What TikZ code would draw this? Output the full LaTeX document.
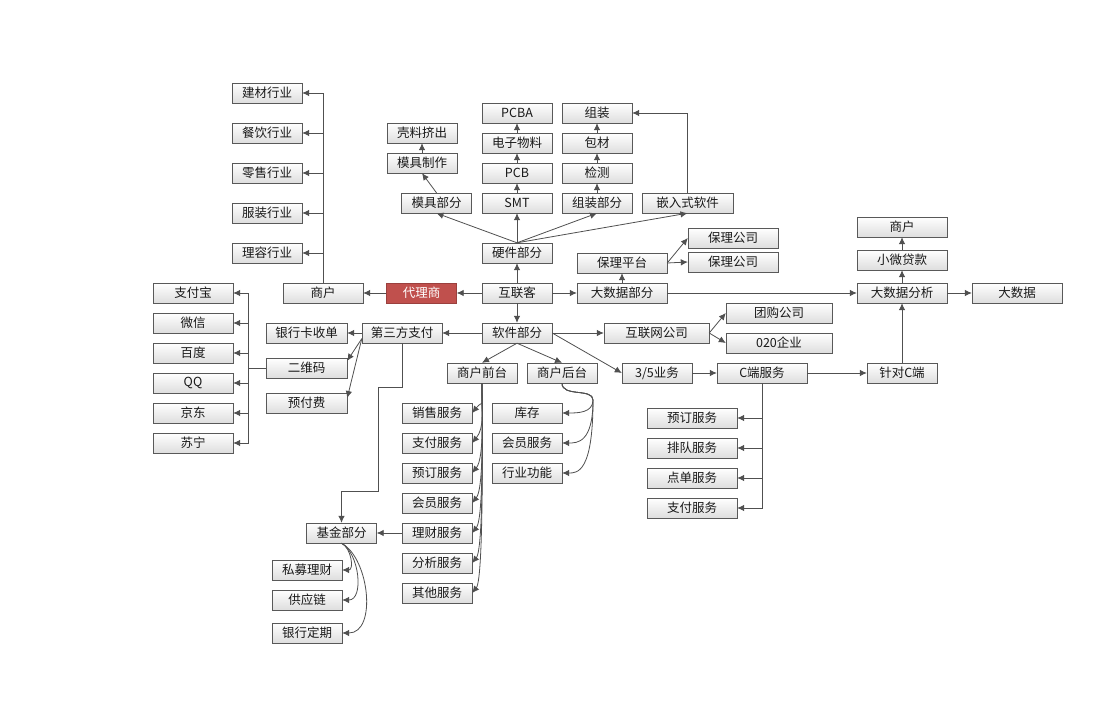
\documentclass[tikz,border=0pt]{standalone}
\usepackage{fontspec}
\usepackage{tikz}
\usetikzlibrary{arrows}
\usetikzlibrary{arrows.meta}
\newfontfamily\cjk{Noto Sans CJK SC}
\definecolor{agentred}{HTML}{C0504D}
\definecolor{linegray}{HTML}{505050}
\tikzset{
part/.style = { rectangle, draw = black!65, top color = white, bottom color = black!13, minimum width = 70bp, minimum height = 20bp, inner sep = 0pt, text = black!90, font = \cjk\fontsize{12.5bp}{14bp}\selectfont },
wide/.style = { part, minimum width = 90bp },
agent/.style = { part, draw = agentred!80!black, top color = agentred, bottom color = agentred, text = white },
link/.style = { draw = linegray, line width = 0.8bp, -{Latex[length = 7bp, width = 6.5bp]} },
}

\begin{document}
\begin{tikzpicture}[x = 1bp, y = -1bp]
    \useasboundingbox[fill = white] (0, 0) rectangle (1118, 715);
    \node[part] (jc) at (267, 93) {建材行业};
    \node[part] (cy) at (267, 133) {餐饮行业};
    \node[part] (ls) at (267, 173) {零售行业};
    \node[part] (fz) at (267, 213) {服装行业};
    \node[part] (lr) at (267, 253) {理容行业};
    \node[part, minimum width = 80bp] (shl) at (323, 293) {商户};
    \node[agent] (dls) at (421.5, 293) {代理商};
    \node[part] (klj) at (422, 133) {壳料挤出};
    \node[part] (mjz) at (422, 163) {模具制作};
    \node[part] (mjb) at (436.5, 203) {模具部分};
    \node[part] (pcba) at (517, 113) {PCBA};
    \node[part] (dzwl) at (517, 143) {电子物料};
    \node[part] (pcb) at (517, 173) {PCB};
    \node[part] (smt) at (517, 203) {SMT};
    \node[part] (yj) at (517, 253) {硬件部分};
    \node[part] (hlk) at (517, 293) {互联客};
    \node[part] (rj) at (517, 333) {软件部分};
    \node[part] (zz) at (597, 113) {组装};
    \node[part] (bc) at (597, 143) {包材};
    \node[part] (jcz) at (597, 173) {检测};
    \node[part] (zzb) at (597, 203) {组装部分};
    \node[part, minimum width = 91bp] (qrs) at (687.5, 203) {嵌入式软件};
    \node[wide] (blp) at (622, 263) {保理平台};
    \node[wide] (dsj) at (622, 293) {大数据部分};
    \node[wide] (blg1) at (733, 238) {保理公司};
    \node[wide] (blg2) at (733, 262) {保理公司};
    \node[wide] (shr) at (902, 227) {商户};
    \node[wide] (xw) at (902, 260) {小微贷款};
    \node[wide] (dfx) at (902, 293) {大数据分析};
    \node[wide] (dsjr) at (1017, 293) {大数据};
    \node[part, minimum width = 105bp] (hlw) at (656.5, 333) {互联网公司};
    \node[part, minimum width = 106bp] (tg) at (779, 313) {团购公司};
    \node[part, minimum width = 106bp] (oto) at (779, 343) {020企业};
    \node[part] (ywb) at (657, 373) {3/5业务};
    \node[wide] (cd) at (762, 373) {C端服务};
    \node[part] (zdc) at (902, 373) {针对C端};
    \node[wide] (cyd) at (692, 418) {预订服务};
    \node[wide] (cpd) at (692, 448) {排队服务};
    \node[wide] (cdd) at (692, 478) {点单服务};
    \node[wide] (czf) at (692, 508) {支付服务};
    \node[part] (qt) at (482, 373) {商户前台};
    \node[part] (ht) at (562, 373) {商户后台};
    \node[part] (xs) at (437, 413) {销售服务};
    \node[part] (zf) at (437, 443) {支付服务};
    \node[part] (yd) at (437, 473) {预订服务};
    \node[part] (hy) at (437, 503) {会员服务};
    \node[part] (lc) at (437, 533) {理财服务};
    \node[part] (fx) at (437, 563) {分析服务};
    \node[part] (qtfw) at (437, 593) {其他服务};
    \node[part] (kc) at (527, 413) {库存};
    \node[part] (hyb) at (527, 443) {会员服务};
    \node[part] (hygn) at (527, 473) {行业功能};
    \node[part, minimum width = 80bp] (dsf) at (402, 333) {第三方支付};
    \node[part, minimum width = 81bp] (yhk) at (306.5, 333) {银行卡收单};
    \node[part, minimum width = 81bp] (ewm) at (306.5, 368) {二维码};
    \node[part, minimum width = 81bp] (yff) at (306.5, 403) {预付费};
    \node[part, minimum width = 80bp] (zfb) at (193, 293) {支付宝};
    \node[part, minimum width = 80bp] (wx) at (193, 323) {微信};
    \node[part, minimum width = 80bp] (bd) at (193, 353) {百度};
    \node[part, minimum width = 80bp] (qq) at (193, 383) {QQ};
    \node[part, minimum width = 80bp] (jd) at (193, 413) {京东};
    \node[part, minimum width = 80bp] (sn) at (193, 443) {苏宁};
    \node[part] (jj) at (341.5, 533) {基金部分};
    \node[part] (smlc) at (307, 570) {私募理财};
    \node[part] (gyl) at (307, 600) {供应链};
    \node[part] (yhdq) at (307, 633) {银行定期};
    \draw[link] (hlk.west) -- (dls.east);
    \draw[link] (dls.west) -- (shl.east);
    \draw[link] (shl.north) |- (jc.east);
    \draw[link] (shl.north) |- (cy.east);
    \draw[link] (shl.north) |- (ls.east);
    \draw[link] (shl.north) |- (fz.east);
    \draw[link] (shl.north) |- (lr.east);
    \draw[link] (hlk.north) -- (yj.south);
    \draw[link] (yj.north) -- (mjb.south);
    \draw[link] (yj.north) -- (smt.south);
    \draw[link] (yj.north) -- (zzb.south);
    \draw[link] (yj.north) -- (qrs.south);
    \draw[link] (mjb.north) -- (mjz.south);
    \draw[link] (mjz.north) -- (klj.south);
    \draw[link] (smt.north) -- (pcb.south);
    \draw[link] (pcb.north) -- (dzwl.south);
    \draw[link] (dzwl.north) -- (pcba.south);
    \draw[link] (zzb.north) -- (jcz.south);
    \draw[link] (jcz.north) -- (bc.south);
    \draw[link] (bc.north) -- (zz.south);
    \draw[link] (qrs.north) |- (zz.east);
    \draw[link] (hlk.east) -- (dsj.west);
    \draw[link] (dsj.north) -- (blp.south);
    \draw[link] (blp.east) -- (blg1.west);
    \draw[link] (blp.east) -- (blg2.west);
    \draw[link] (dsj.east) -- (dfx.west);
    \draw[link] (dfx.north) -- (xw.south);
    \draw[link] (xw.north) -- (shr.south);
    \draw[link] (dfx.east) -- (dsjr.west);
    \draw[link] (zdc.north) -- (dfx.south);
    \draw[link] (hlk.south) -- (rj.north);
    \draw[link] (rj.west) -- (dsf.east);
    \draw[link] (rj.east) -- (hlw.west);
    \draw[link] (hlw.east) -- (tg.west);
    \draw[link] (hlw.east) -- (oto.west);
    \draw[link] (rj.east) -- (ywb.west);
    \draw[link] (ywb.east) -- (cd.west);
    \draw[link] (cd.east) -- (zdc.west);
    \draw[link] (cd.south) |- (cyd.east);
    \draw[link] (cd.south) |- (cpd.east);
    \draw[link] (cd.south) |- (cdd.east);
    \draw[link] (cd.south) |- (czf.east);
    \draw[link] (rj.south) -- (qt.north);
    \draw[link] (rj.south) -- (ht.north);
    \draw[link] (qt.south) .. controls +(0, 30) and +(12, -15) .. (xs.east);
    \draw[link] (qt.south) .. controls +(0, 30) and +(12, -15) .. (zf.east);
    \draw[link] (qt.south) .. controls +(0, 30) and +(12, -15) .. (yd.east);
    \draw[link] (qt.south) .. controls +(0, 30) and +(12, -15) .. (hy.east);
    \draw[link] (qt.south) .. controls +(0, 30) and +(12, -15) .. (lc.east);
    \draw[link] (qt.south) .. controls +(0, 30) and +(12, -15) .. (fx.east);
    \draw[link] (qt.south) .. controls +(0, 30) and +(12, -15) .. (qtfw.east);
    \coordinate (htr) at (593, 400);
    \draw[link] (ht.south) .. controls +(0, 14) and +(0, -12) .. (htr) .. controls +(0, 13) and +(15, 0) .. (kc.east);
    \draw[link] (ht.south) .. controls +(0, 14) and +(0, -12) .. (htr) .. controls +(0, 43) and +(15, 0) .. (hyb.east);
    \draw[link] (ht.south) .. controls +(0, 14) and +(0, -12) .. (htr) .. controls +(0, 73) and +(15, 0) .. (hygn.east);
    \draw[link] (dsf.west) -- (yhk.east);
    \draw[link] (dsf.188) -- (ewm.10);
    \draw[link] (dsf.188) -- (yff.7);
    \draw[link] (ewm.west) -- ++(-17, 0) |- (zfb.east);
    \draw[link] (ewm.west) -- ++(-17, 0) |- (wx.east);
    \draw[link] (ewm.west) -- ++(-17, 0) |- (bd.east);
    \draw[link] (ewm.west) -- ++(-17, 0) |- (qq.east);
    \draw[link] (ewm.west) -- ++(-17, 0) |- (jd.east);
    \draw[link] (ewm.west) -- ++(-17, 0) |- (sn.east);
    \draw[link] (dsf.south) -- ++(0, 44) -- ++(-24, 0) -- ++(0, 104) -| (jj.north);
    \draw[link] (lc.west) -- (jj.east);
    \draw[link] (jj.south) .. controls +(10, 5) and +(12, 0) .. (smlc.east);
    \draw[link] (jj.south) .. controls +(18, 10) and +(22, 0) .. (gyl.east);
    \draw[link] (jj.south) .. controls +(28, 15) and +(35, 0) .. (yhdq.east);
  \end{tikzpicture}
\end{document}
